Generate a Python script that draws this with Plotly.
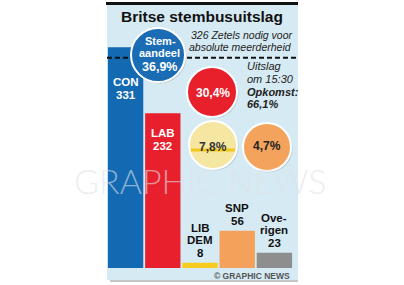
import plotly.graph_objects as go

# ---- data ----
parties = ["CON", "LAB", "LIB DEM", "SNP", "Overigen"]
party_labels = [["CON", "331"], ["LAB", "232"], ["LIB", "DEM", "8"], ["SNP", "56"], ["Ove-", "rigen", "23"]]
seats = [331, 232, 8, 56, 23]
bar_colors = ["#1469b3", "#e8202d", "#f6cd1f", "#f4a25b", "#8e8e8e"]
vote_share_labels = ["36,9%", "30,4%", "7,8%", "4,7%"]
majority = 326
title = "Britse stembusuitslag"
subtitle = ["326 Zetels nodig voor", "absolute meerderheid"]
info = ["Uitslag", "om 15:30", "Opkomst:", "66,1%"]

# ---- layout geometry (pixels) ----
W, H = 404, 285
L, R, T, B = 107, 111, 20, 17
PW, PH = W - L - R, H - T - B


def px(x):
    return (x - L) / PW


def py(y):
    return (H - B - y) / PH


fig = go.Figure()
fig.add_trace(go.Bar(x=list(range(len(parties))), y=seats, marker=dict(color=bar_colors, line=dict(width=0)),
                     hoverinfo="skip"))

shapes = []
annotations = []

# panel background + top rule
shapes.append(dict(type="rect", xref="paper", yref="paper", x0=px(107), x1=px(298), y0=py(280), y1=py(5),
                   fillcolor="#d6eaf3", line=dict(width=0), layer="below"))
shapes.append(dict(type="line", xref="paper", yref="paper", x0=px(110), x1=px(298), y0=py(281), y1=py(281),
                   line=dict(color="#b5b5b5", width=1.5), layer="below"))
shapes.append(dict(type="line", xref="paper", yref="paper", x0=px(106), x1=px(298), y0=py(3.5), y1=py(3.5),
                   line=dict(color="#111111", width=3)))
# majority line (anchored at the 326-seat level, drawn a few pixels lower as in the graphic)
shapes.append(dict(type="line", xref="paper", yref="y", ysizemode="pixel", yanchor=majority,
                   x0=px(107), x1=px(298), y0=-7, y1=-7,
                   line=dict(color="#111111", width=2, dash="5px,3px")))

# vote-share bubbles
bubbles = [
    dict(cx=158, cy=55, r=27, fill="#1a6cb4"),
    dict(cx=212, cy=92, r=25, fill="#e8202c"),
    dict(cx=213, cy=145, r=24, fill="#f5e6a2"),
    dict(cx=267, cy=147, r=24, fill="#f4a35c"),
]
for b in bubbles:
    shapes.append(dict(type="circle", xref="paper", yref="paper",
                       x0=px(b["cx"] - b["r"] + 1.5), x1=px(b["cx"] + b["r"] + 1.5),
                       y0=py(b["cy"] + b["r"] + 1.5), y1=py(b["cy"] - b["r"] + 1.5),
                       fillcolor="rgba(90,110,130,0.25)", line=dict(width=0)))
    shapes.append(dict(type="circle", xref="paper", yref="paper",
                       x0=px(b["cx"] - b["r"]), x1=px(b["cx"] + b["r"]),
                       y0=py(b["cy"] + b["r"]), y1=py(b["cy"] - b["r"]),
                       fillcolor=b["fill"], line=dict(color="white", width=2)))
# yellow stripe in LIB DEM bubble
shapes.append(dict(type="line", xref="paper", yref="paper", x0=px(191), x1=px(235), y0=py(150), y1=py(150),
                   line=dict(color="#f3c81c", width=3)))

FONT = "Liberation Sans, Arial, sans-serif"


def txt(x, y, s, size, color="#111111", bold=False, italic=False, xanchor="center", family=FONT):
    if bold:
        s = "<b>" + s + "</b>"
    if italic:
        s = "<i>" + s + "</i>"
    annotations.append(dict(xref="paper", yref="paper", x=px(x), y=py(y), text=s, showarrow=False,
                            xanchor=xanchor, yanchor="middle", font=dict(size=size, color=color, family=family)))


# title
txt(202, 17, title, 15.5, "#111111", bold=True)
for i, s in enumerate(subtitle):
    txt(294, 35 + 12 * i, s, 10.5, "#222222", italic=True, xanchor="right")
# info text
info_y = [66, 79, 92, 104]
for i, s in enumerate(info):
    txt(245, info_y[i], s, 11, "#222222", italic=True, bold=(i >= 2), xanchor="left")

# bubble texts
txt(160, 41, "Stem-", 11, "white", bold=True)
txt(159, 53, "aandeel", 11, "white", bold=True)
txt(159, 67, vote_share_labels[0], 12.5, "white", bold=True)
txt(213, 93, vote_share_labels[1], 12, "white", bold=True)
txt(213, 147, vote_share_labels[2], 12, "#333333", bold=True)
txt(267, 146, vote_share_labels[3], 12, "#222222", bold=True)

# bar labels (data-anchored)
inside = {0: (35, "white"), 1: (20, "white")}
for i, lines in enumerate(party_labels):
    n = len(lines)
    for j, s in enumerate(lines):
        if i in inside:
            off, col = inside[i]
            ys = -(off + 13 * j)
        else:
            off, col = 10, "#111111"
            ys = off + 12.5 * (n - 1 - j)
        annotations.append(dict(x=i, y=seats[i], xref="x", yref="y", text="<b>" + s + "</b>", showarrow=False,
                                xanchor="center", yanchor="middle", yshift=ys,
                                font=dict(size=11.5, color=col, family=FONT)))

# watermark + credit
annotations.append(dict(xref="paper", yref="paper", x=px(200), y=py(180), text="GRAPHIC NEWS", showarrow=False,
                        xanchor="center", yanchor="middle",
                        font=dict(size=34, color="rgba(222,226,232,0.6)", family="Lato, sans-serif", weight=300)))
txt(292, 276, "© GRAPHIC NEWS", 8.5, "#555555", bold=True, xanchor="right")

fig.update_layout(
    width=W, height=H, margin=dict(l=L, r=R, t=T, b=B),
    paper_bgcolor="white", plot_bgcolor="rgba(0,0,0,0)",
    showlegend=False, bargap=0.05,
    xaxis=dict(range=[-0.5, len(parties) - 0.5], visible=False, fixedrange=True),
    yaxis=dict(range=[0, 372], visible=False, fixedrange=True),
    shapes=shapes, annotations=annotations,
)
fig.write_html("out.html", config={"displayModeBar": False})
